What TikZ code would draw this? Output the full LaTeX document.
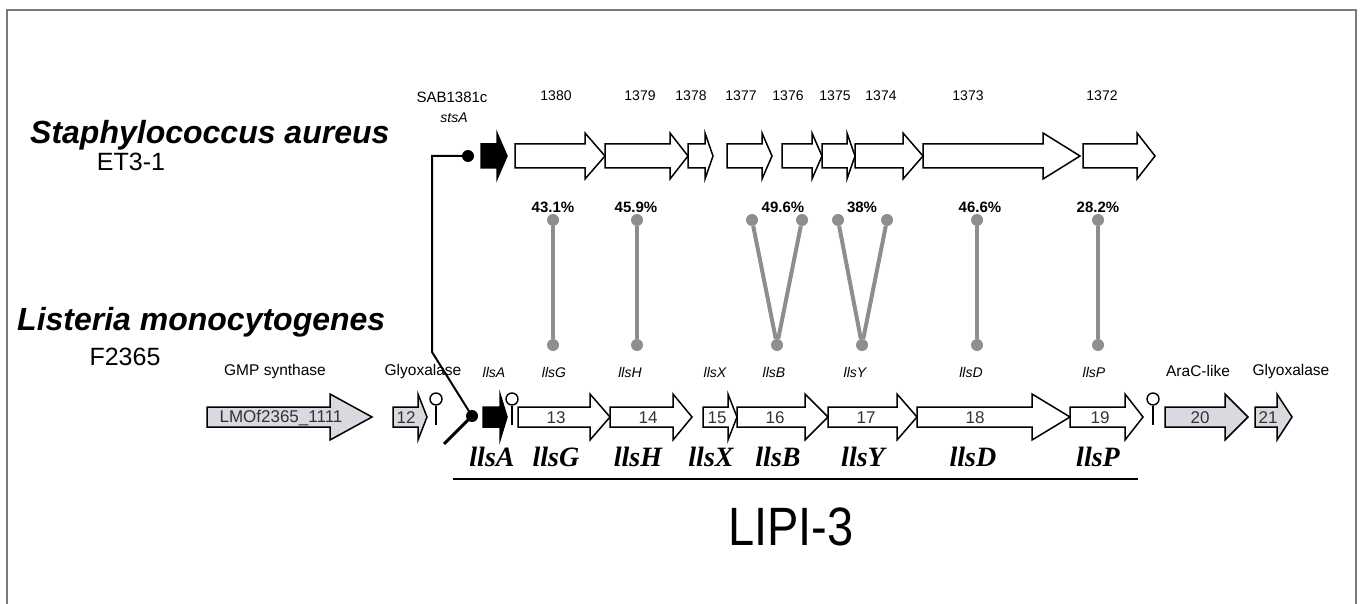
\documentclass[tikz,border=0pt]{standalone}
\usepackage{fontspec}
\setmainfont{Liberation Sans}
\newfontfamily\serifbi{Liberation Serif}
\definecolor{simgray}{HTML}{8E8E8E}
\definecolor{genegray}{HTML}{D9D9E0}
\definecolor{framegray}{HTML}{7A7A7A}
\newcommand{\gene}[8]{%
  \draw[genestyle, fill=#8] (#2,#5-#6) -- (#3,#5-#6) -- (#3,#5-#7) -- (#4,#5) -- (#3,#5+#7) -- (#3,#5+#6) -- (#2,#5+#6) -- cycle;
  \coordinate (#1) at ({(#2+#3)/2},#5);}
\tikzset{
  genestyle/.style={draw=black, line width=1.5pt, line join=miter},
  glabel/.style={font=\fontsize{17}{20}\selectfont, inner sep=0pt, text=black!80},
  toplab/.style={font=\fontsize{14}{16}\selectfont, inner sep=0pt},
  txtlab/.style={font=\fontsize{15.5}{18}\selectfont, inner sep=0pt},
  pct/.style={font=\fontsize{15}{18}\selectfont\bfseries, inner sep=0pt},
  smit/.style={font=\fontsize{14}{16}\selectfont\itshape, inner sep=0pt},
  bigit/.style={font=\serifbi\fontsize{28}{32}\selectfont\bfseries\itshape, inner sep=0pt},
  species/.style={font=\fontsize{32}{36}\selectfont\bfseries\itshape, inner sep=0pt, anchor=west},
  strain/.style={font=\fontsize{25}{28}\selectfont, inner sep=0pt},
  simdot/.style={circle, fill=simgray, minimum size=12pt, inner sep=0pt},
  simline/.style={draw=simgray, line width=4pt},
  termstem/.style={line width=1.6pt},
  termhead/.style={circle, draw, line width=1.4pt, minimum size=12pt, inner sep=0pt, fill=white},
  promdot/.style={circle, fill=black, minimum size=12pt, inner sep=0pt},
  promline/.style={line width=2pt},
}
\begin{document}
\begin{tikzpicture}[x=1pt,y=-1pt]
\useasboundingbox (0,0) rectangle (1362,604);
% frame
\draw[framegray, line width=2pt] (7,606) -- (7,10) -- (1356,10) -- (1356,606);

% species
\node[species] (sa) at (30,135) {Staphylococcus aureus};
\node[strain] (et) at (131,162) {ET3-1};
\node[species] (lm) at (17,322) {Listeria monocytogenes};
\node[strain] (f2) at (125,357) {F2365};

% top row genes
\gene{stsA}{481}{497}{507}{156}{12}{23}{black}
\gene{t1380}{515}{585}{605}{156}{12}{23}{white}
\gene{t1379}{605}{670}{688}{156}{12}{23}{white}
\gene{t1378}{688}{705}{713}{156}{12}{23}{white}
\gene{t1377}{727}{762}{772}{156}{12}{23}{white}
\gene{t1376}{782}{812}{822}{156}{12}{23}{white}
\gene{t1375}{822}{847}{855}{156}{12}{23}{white}
\gene{t1374}{855}{903}{923}{156}{12}{23}{white}
\gene{t1373}{923}{1043}{1080}{156}{12}{23}{white}
\gene{t1372}{1083}{1137}{1155}{156}{12}{23}{white}

% top labels
\node[font=\fontsize{15}{17}\selectfont, inner sep=0pt] (lsab) at (452,97) {SAB1381c};
\node[smit] (lsts) at (454,118) {stsA};
\node[toplab] (l1380) at (556,96) {1380};
\node[toplab] (l1379) at (640,96) {1379};
\node[toplab] (l1378) at (691,96) {1378};
\node[toplab] (l1377) at (741,96) {1377};
\node[toplab] (l1376) at (788,96) {1376};
\node[toplab] (l1375) at (835,96) {1375};
\node[toplab] (l1374) at (881,96) {1374};
\node[toplab] (l1373) at (968,96) {1373};
\node[toplab] (l1372) at (1102,96) {1372};

% top promoter and connector to bottom
\node[promdot] (ptop) at (468,156) {};
\node[promdot] (pbot) at (472,416) {};
\coordinate (pcorner) at (432,156);
\coordinate (pbend) at (432,352);
\coordinate (pfoot) at (444,444);
\draw[promline] (ptop.center) -- (pcorner) -- (pbend) -- (pbot.center);
\draw[line width=3pt] (pfoot) -- (pbot.center);

% bottom row genes
\gene{lmo}{207}{330}{372}{417}{10}{23}{genegray}
\gene{b12}{393}{418}{427}{417}{10}{23}{genegray}
\gene{llsAg}{483}{500}{507}{417}{10}{23}{black}
\gene{b13}{518}{590}{610}{417}{10}{23}{white}
\gene{b14}{610}{673}{692}{417}{10}{23}{white}
\gene{b15}{703}{728}{737}{417}{10}{23}{white}
\gene{b16}{737}{805}{828}{417}{10}{23}{white}
\gene{b17}{828}{897}{917}{417}{10}{23}{white}
\gene{b18}{917}{1032}{1070}{417}{10}{23}{white}
\gene{b19}{1070}{1125}{1143}{417}{10}{23}{white}
\gene{b20}{1165}{1225}{1248}{417}{10}{23}{genegray}
\gene{b21}{1255}{1277}{1292}{417}{10}{23}{genegray}

% numbers in genes
\node[glabel] (nlmo) at (281,418) {LMOf2365\_1111};
\node[glabel] (n12) at (406,418) {12};
\node[glabel] (n13) at (556,418) {13};
\node[glabel] (n14) at (648,418) {14};
\node[glabel] (n15) at (717,418) {15};
\node[glabel] (n16) at (775,418) {16};
\node[glabel] (n17) at (866,418) {17};
\node[glabel] (n18) at (975,418) {18};
\node[glabel] (n19) at (1100,418) {19};
\node[glabel] (n20) at (1200,418) {20};
\node[glabel] (n21) at (1268,418) {21};

% terminators
\node[termhead] (term1) at (436,399) {};
\coordinate (term1b) at (436,425);
\draw[termstem] (term1) -- (term1b);
\node[termhead] (term2) at (512,399) {};
\coordinate (term2b) at (512,425);
\draw[termstem] (term2) -- (term2b);
\node[termhead] (term3) at (1153,399) {};
\coordinate (term3b) at (1153,425);
\draw[termstem] (term3) -- (term3b);

% bottom small labels
\node[txtlab] (lgmp) at (275,371) {GMP synthase};
\node[txtlab] (lgly1) at (423,371) {Glyoxalase};
\node[smit] (sA) at (494,372) {llsA};
\node[smit] (sG) at (554,372) {llsG};
\node[smit] (sH) at (630,372) {llsH};
\node[smit] (sX) at (715,372) {llsX};
\node[smit] (sB) at (774,372) {llsB};
\node[smit] (sY) at (855,372) {llsY};
\node[smit] (sD) at (971,372) {llsD};
\node[smit] (sP) at (1094,372) {llsP};
\node[txtlab] (lara) at (1198,371) {AraC-like};
\node[txtlab] (lgly2) at (1291,371) {Glyoxalase};

% similarity connectors
\node[pct] (pG) at (553,207) {43.1\%};
\node[pct] (pH) at (636,207) {45.9\%};
\node[pct] (pB) at (783,207) {49.6\%};
\node[pct] (pY) at (862,207) {38\%};
\node[pct] (pD) at (980,207) {46.6\%};
\node[pct] (pP) at (1098,207) {28.2\%};

\node[simdot] (gT) at (553,220) {};
\node[simdot] (gB) at (553,345) {};
\node[simdot] (hT) at (637,220) {};
\node[simdot] (hB) at (637,345) {};
\node[simdot] (b1T) at (752,220) {};
\node[simdot] (b2T) at (802,220) {};
\node[simdot] (bB) at (777,345) {};
\node[simdot] (y1T) at (838,220) {};
\node[simdot] (y2T) at (887,220) {};
\node[simdot] (yB) at (862,345) {};
\node[simdot] (dT) at (977,220) {};
\node[simdot] (dB) at (977,345) {};
\node[simdot] (pPT) at (1098,220) {};
\node[simdot] (pPB) at (1098,345) {};
\draw[simline] (gT) -- (gB);
\draw[simline] (hT) -- (hB);
\draw[simline] (b1T) -- (bB);
\draw[simline] (b2T) -- (bB);
\draw[simline] (y1T) -- (yB);
\draw[simline] (y2T) -- (yB);
\draw[simline] (dT) -- (dB);
\draw[simline] (pPT) -- (pPB);

% big labels
\node[bigit] (BA) at (492,457) {llsA};
\node[bigit] (BG) at (556,457) {llsG};
\node[bigit] (BH) at (638,457) {llsH};
\node[bigit] (BX) at (711,457) {llsX};
\node[bigit] (BB) at (778,457) {llsB};
\node[bigit] (BY) at (863,457) {llsY};
\node[bigit] (BD) at (973,457) {llsD};
\node[bigit] (BP) at (1098,457) {llsP};

\coordinate (ulA) at (453,479);
\coordinate (ulB) at (1138,479);
\draw[line width=1.6pt] (ulA) -- (ulB);
\node[inner sep=0pt] (lipi) at (791,527) {\scalebox{0.87}[1]{\fontsize{54}{60}\selectfont LIPI-3}};
\end{tikzpicture}
\end{document}
